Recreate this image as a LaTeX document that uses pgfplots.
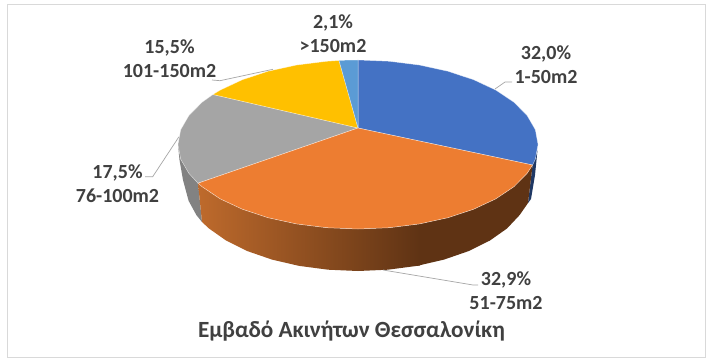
\documentclass[border=0pt]{standalone}
\usepackage{pgfplots}
\pgfplotsset{compat=1.18}
\usepackage{fontspec}
\setmainfont{Carlito}
\definecolor{cblue}{HTML}{4472C4}
\definecolor{corange}{HTML}{ED7D31}
\definecolor{cgray}{HTML}{A5A5A5}
\definecolor{cyellow}{HTML}{FFC000}
\definecolor{clight}{HTML}{5B9BD5}
\definecolor{txt}{HTML}{404040}
\definecolor{sideL}{HTML}{BE6A2C}
\definecolor{sideD}{HTML}{5F3314}
\definecolor{sideB}{HTML}{1F3864}
\definecolor{sideG}{HTML}{828282}
\definecolor{lead}{HTML}{A6A6A6}
\definecolor{frame}{HTML}{D9D9D9}
\begin{document}
\begin{tikzpicture}
\begin{axis}[
  width=711pt,height=363pt,scale only axis,
  xmin=0,xmax=711,ymin=0,ymax=363,y dir=reverse,
  hide axis,clip=false,
  every axis plot/.append style={forget plot}]
% background and frame
\addplot[fill=white,draw=none] coordinates {(0,0)(711,0)(711,363)(0,363)} --cycle;
\addplot[fill=white,draw=frame,line width=1pt] coordinates {(7,5)(705,5)(705,357)(7,357)} --cycle;
% side walls
\addplot[fill=sideG,draw=none] coordinates {(198,183.2)(188.9,173.4)(180.7,159.2)(178,144.5)(179.5,160)(183,180)(188.6,200.8)(196.4,215.1)(202,222)} --cycle;
\addplot[fill=sideB,draw=none] coordinates {(532.6,165)(535.3,159.2)(537.5,150)(535,175)(531,199)(528,203)} --cycle;
\addplot[fill=sideD,draw=none] coordinates {(532.6,165)(527.1,173.4)(513.9,186.75)(495.9,198.8)(473.7,209.2)(448,217.7)(419,224)(416.8,265.9)(444,259.6)(468.6,251.1)(489.8,240.6)(507,228.5)(519.6,215.1)(528,203)} --cycle;
\addplot[left color=sideL,right color=sideD,draw=none] coordinates {(420,223.9)(389.2,227.7)(358,229)(326.8,227.7)(296.4,223.9)(268,217.7)(242.3,209.2)(220.1,198.8)(202.1,186.75)(198,183.2)(202,222)(209,228.5)(226.2,240.6)(247.4,251.1)(272,259.6)(299.2,265.9)(328.1,269.7)(358,271)(387.9,269.7)(420,265.5)} --cycle;
% top faces
\addplot[fill=cblue,draw=white,draw opacity=0.5,line width=0.5pt] coordinates {(358,128)(358,60)(389.2,61.3)(419.6,65.1)(448,71.3)(473.7,79.8)(495.9,90.2)(513.9,102.25)(527.1,115.6)(535.3,129.8)(538,144.5)(535.3,159.2)(532.6,165)} --cycle;
\addplot[fill=cgray,draw=white,draw opacity=0.5,line width=0.5pt] coordinates {(358,128)(198,183.2)(188.9,173.4)(180.7,159.2)(178,144.5)(180.7,129.8)(188.9,115.6)(202.1,102.25)(213,94.5)} --cycle;
\addplot[fill=cyellow,draw=white,draw opacity=0.5,line width=0.5pt] coordinates {(358,128)(213,94.5)(220.1,90.2)(242.3,79.8)(268,71.3)(296.4,65.1)(326.8,61.3)(339,60.5)} --cycle;
\addplot[fill=clight,draw=white,draw opacity=0.5,line width=0.5pt] coordinates {(358,128)(339,60.5)(348,60.1)(358,60)} --cycle;
\addplot[fill=corange,draw=white,draw opacity=0.6,line width=0.5pt] coordinates {(358,128)(532.6,165)(527.1,173.4)(513.9,186.75)(495.9,198.8)(473.7,209.2)(448,217.7)(419.6,223.9)(389.2,227.7)(358,229)(326.8,227.7)(296.4,223.9)(268,217.7)(242.3,209.2)(220.1,198.8)(202.1,186.75)(198,183.2)} --cycle;
% leader lines
\addplot[lead,line width=0.7pt] coordinates {(495,89)(505,82)(512,82)};
\addplot[lead,line width=0.7pt] coordinates {(383,270)(473,285)(478,285)};
\addplot[lead,line width=0.7pt] coordinates {(212,80)(220,80.7)(273,69.3)};
\addplot[lead,line width=0.7pt] coordinates {(179,136.7)(152.7,176.7)(145,176.7)};
% labels
\begin{scope}[every node/.style={font=\fontsize{20}{24}\selectfont\bfseries,text=txt,align=center,inner sep=0pt,anchor=center}]
\node at (axis cs:546,64.5) {32,0\%\\1-50m2};
\node at (axis cs:506,290.5) {32,9\%\\51-75m2};
\node at (axis cs:117.5,184) {17,5\%\\76-100m2};
\node at (axis cs:169.5,59) {15,5\%\\101-150m2};
\node at (axis cs:333,33.5) {2,1\%\\>150m2};
\node[font=\fontsize{23.2}{27}\selectfont\bfseries] at (axis cs:351.5,331) {Εμβαδό Ακινήτων Θεσσαλονίκη};
\end{scope}
\end{axis}
\end{tikzpicture}
\end{document}
